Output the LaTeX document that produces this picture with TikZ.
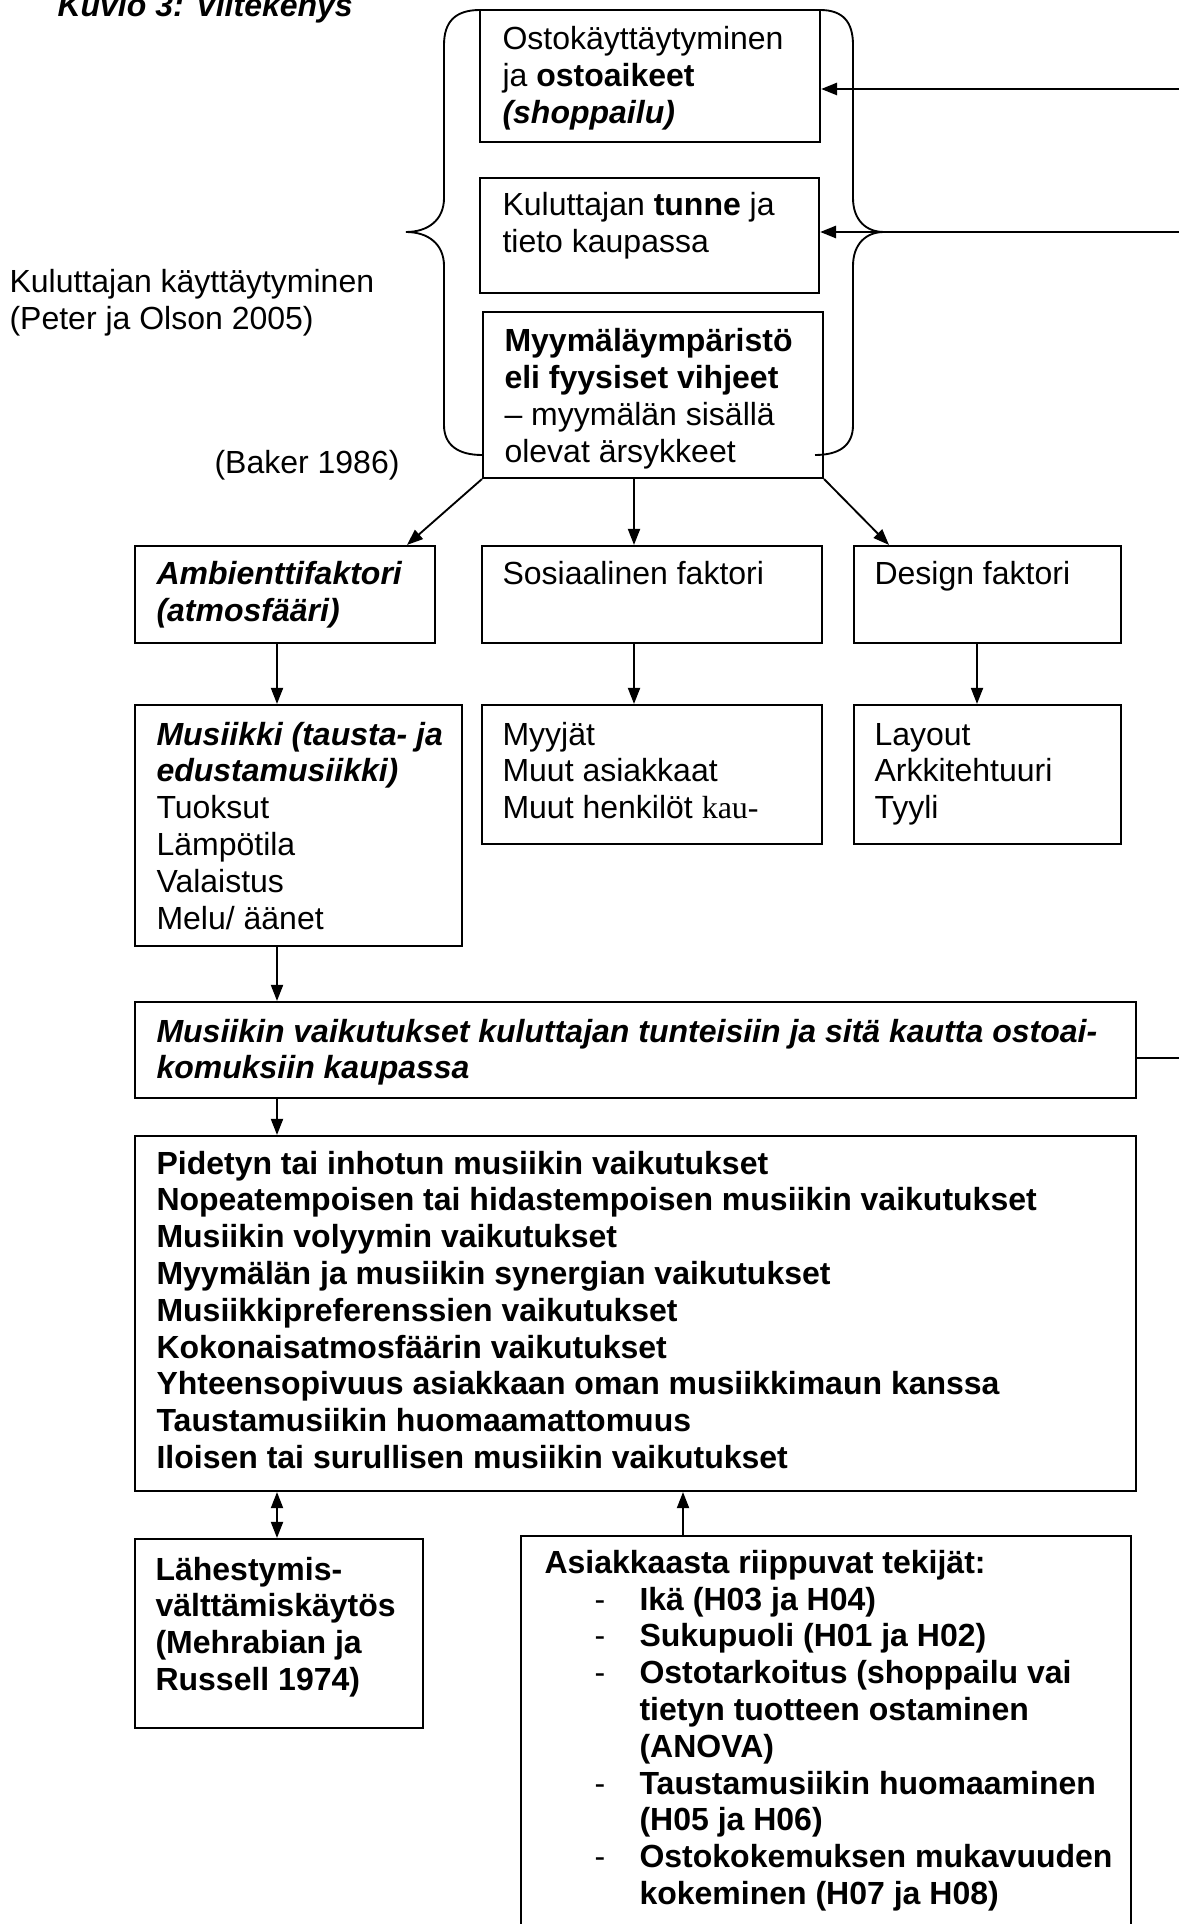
\documentclass[tikz,border=0pt]{standalone}
\usepackage{fontspec}
\setmainfont{Liberation Sans}
\newfontfamily\timesfont{Liberation Serif}
\usetikzlibrary{arrows.meta,fit,calc}
\newcommand{\mylines}[1]{\begin{tabular}[t]{@{}l@{}}#1\end{tabular}}
\begin{document}
\begin{tikzpicture}[x=0.375pt,y=-0.375pt,
  box/.style={draw, line width=0.8pt, inner sep=0pt, fit={#1}},
  txt/.style={anchor=base west, inner sep=0pt, font=\fontsize{12pt}{13.8pt}\selectfont},
  btxt/.style={txt, font=\fontsize{12pt}{13.8pt}\selectfont\bfseries},
  bitxt/.style={txt, font=\fontsize{12pt}{13.8pt}\selectfont\bfseries\itshape},
  arr/.style={line width=0.7pt, -{Triangle[length=6pt,width=4.5pt]}},
  darr/.style={line width=0.7pt, {Triangle[length=6pt,width=4.5pt]}-{Triangle[length=6pt,width=4.5pt]}},
  brace/.style={line width=0.7pt}]
\useasboundingbox (0,0) rectangle (1179,1924);
\clip (0,0) rectangle (1179,1924);

% title and free labels
\node[bitxt] (title) at (57,17) {Kuvio 3: Viitekenys};
\node[txt] (kul) at (9,293) {\mylines{Kuluttajan käyttäytyminen\\(Peter ja Olson 2005)}};
\node[txt] (baker) at (214,474) {(Baker 1986)};

% top boxes
\node[box={(480,10) (820,142)}] (b1) {};
\node[txt] (t1) at (502,50) {\mylines{Ostokäyttäytyminen\\ja \textbf{ostoaikeet}\\\textbf{\textit{(shoppailu)}}}};
\node[box={(480,178) (819,293)}] (b2) {};
\node[txt] (t2) at (502,216) {\mylines{Kuluttajan \textbf{tunne} ja\\tieto kaupassa}};
\node[box={(483,312) (823,478)}] (b3) {};
\node[txt] (t3) at (504,352) {\mylines{\textbf{Myymäläympäristö}\\\textbf{eli fyysiset vihjeet}\\– myymälän sisällä\\olevat ärsykkeet}};

% braces
\draw[brace] (480,10) .. controls (455,10) and (444,22) .. (444,45) -- (444,198)
  .. controls (444,220) and (428,232) .. (406,232)
  .. controls (428,232) and (444,244) .. (444,266) -- (444,425)
  .. controls (444,445) and (458,455) .. (482,455);
\draw[brace] (820,10) .. controls (843,10) and (853,22) .. (853,45) -- (853,198)
  .. controls (853,220) and (866,232) .. (884,232)
  .. controls (866,232) and (853,244) .. (853,266) -- (853,425)
  .. controls (853,445) and (840,455) .. (815,455);

% row 1
\node[box={(135,546) (435,643)}] (amb) {};
\node[bitxt] (tamb) at (156,585) {\mylines{Ambienttifaktori\\(atmosfääri)}};
\node[box={(482,546) (822,643)}] (sos) {};
\node[txt] (tsos) at (502,585) {Sosiaalinen faktori};
\node[box={(854,546) (1121,643)}] (des) {};
\node[txt] (tdes) at (874,585) {Design faktori};

% row 2
\node[box={(135,705) (462,946)}] (mus) {};
\node[txt] (tmus) at (156,745) {\mylines{\textbf{\textit{Musiikki (tausta- ja}}\\\textbf{\textit{edustamusiikki)}}\\Tuoksut\\Lämpötila\\Valaistus\\Melu/ äänet}};
\node[box={(482,705) (822,844)}] (myy) {};
\node[txt] (tmyy) at (502,745) {\mylines{Myyjät\\Muut asiakkaat\\Muut henkilöt {\timesfont kau-}}};
\node[box={(854,705) (1121,844)}] (lay) {};
\node[txt] (tlay) at (874,745) {\mylines{Layout\\Arkkitehtuuri\\Tyyli}};

% effects
\node[box={(135,1002) (1136,1098)}] (vai) {};
\node[bitxt] (tvai) at (156,1042) {\mylines{Musiikin vaikutukset kuluttajan tunteisiin ja sitä kautta ostoai-\\komuksiin kaupassa}};
\node[box={(135,1136) (1136,1491)}] (big) {};
\node[btxt] (tbig) at (156,1174) {\mylines{Pidetyn tai inhotun musiikin vaikutukset\\Nopeatempoisen tai hidastempoisen musiikin vaikutukset\\Musiikin volyymin vaikutukset\\Myymälän ja musiikin synergian vaikutukset\\Musiikkipreferenssien vaikutukset\\Kokonaisatmosfäärin vaikutukset\\Yhteensopivuus asiakkaan oman musiikkimaun kanssa\\Taustamusiikin huomaamattomuus\\Iloisen tai surullisen musiikin vaikutukset}};

% bottom boxes
\node[box={(135,1539) (423,1728)}] (lah) {};
\node[btxt] (tlah) at (155,1580) {\mylines{Lähestymis-\\välttämiskäytös\\(Mehrabian ja\\Russell 1974)}};
\node[box={(521,1536) (1131,2000)}] (asi) {};
\node[btxt] (tasi) at (544,1573) {Asiakkaasta riippuvat tekijät:};
\node[txt] (dash) at (594,1610) {\mylines{-\\-\\-\\~\\~\\-\\~\\-\\~}};
\node[btxt] (tlist) at (639,1610) {\mylines{Ikä (H03 ja H04)\\Sukupuoli (H01 ja H02)\\Ostotarkoitus (shoppailu vai\\tietyn tuotteen ostaminen\\(ANOVA)\\Taustamusiikin huomaaminen\\(H05 ja H06)\\Ostokokemuksen mukavuuden\\kokeminen (H07 ja H08)}};

% connector x positions and free ends
\coordinate (r1) at (1179,89);
\coordinate (r2) at (1179,232);
\coordinate (r3) at (1179,1058);
\coordinate (xl) at (407,0);
\coordinate (xm) at (634,0);
\coordinate (xr) at (889,0);
\coordinate (xa) at (277,0);
\coordinate (xd) at (977,0);
\coordinate (xq) at (683,0);

\draw[arr, line width=1pt] (r1) -- (b1.east |- r1);
\draw[arr, line width=1pt] (r2) -- (b2.east |- r2);
\draw[line width=1pt] (vai.east |- r3) -- (r3);

\draw[arr] (b3.south west) -- (amb.north -| xl);
\draw[arr] (b3.south -| xm) -- (sos.north -| xm);
\draw[arr] (b3.south east) -- (des.north -| xr);

\draw[arr] (amb.south -| xa) -- (mus.north -| xa);
\draw[arr] (sos.south -| xm) -- (myy.north -| xm);
\draw[arr] (des.south -| xd) -- (lay.north -| xd);

\draw[arr] (mus.south -| xa) -- (vai.north -| xa);
\draw[arr] (vai.south -| xa) -- (big.north -| xa);
\draw[darr] (big.south -| xa) -- (lah.north -| xa);
\draw[arr] (asi.north -| xq) -- (big.south -| xq);
\end{tikzpicture}
\end{document}
